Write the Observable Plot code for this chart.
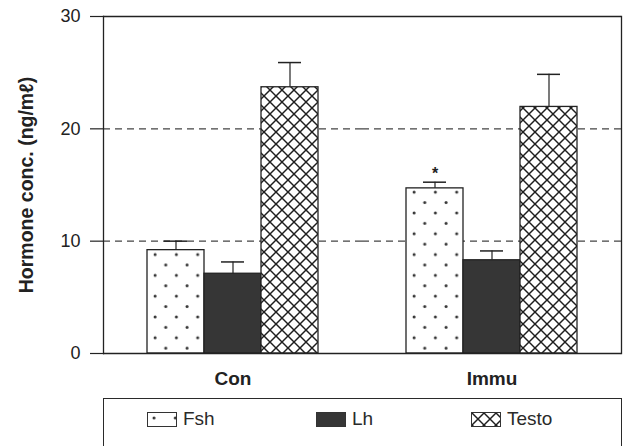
<!DOCTYPE html>
<html><head><meta charset="utf-8">
<script src="https://cdn.jsdelivr.net/npm/d3@7"></script>
<script src="https://cdn.jsdelivr.net/npm/@observablehq/plot@0.6"></script>
<style>
body{margin:0;background:#fff;font-family:"Liberation Sans",Arial,sans-serif;color:#222;}
#legend{position:relative;box-sizing:border-box;margin-left:103px;margin-top:3px;width:519px;height:60px;border:1.5px solid #2a2a2a;}
#legend .sw{position:absolute;top:13px;width:30px;height:15px;box-sizing:border-box;border:1.2px solid #333;}
#legend .lb{position:absolute;top:10px;font-size:19px;line-height:19px;color:#2a2a2a;}
</style></head><body>
<svg width="0" height="0" style="position:absolute">
<defs>
<pattern id="dots" patternUnits="userSpaceOnUse" width="21.3" height="20.8">
 <rect width="21.3" height="20.8" fill="#fff"/>
 <circle cx="6" cy="5" r="1.5" fill="#333"/>
 <circle cx="16.65" cy="15.4" r="1.5" fill="#333"/>
</pattern>
<pattern id="hatch" patternUnits="userSpaceOnUse" width="12" height="12">
 <rect width="12" height="12" fill="#fff"/>
 <path d="M-1,-1L13,13M13,-1L-1,13" stroke="#1e1e1e" stroke-width="1.45"/>
</pattern>
</defs></svg>
<div id="chart"></div>
<div id="legend"></div>
<script>
const groups = ["Con", "Immu"];
const hormones = ["Fsh", "Lh", "Testo"];
const conMeans = [9.2, 7.1, 23.7];
const conErrors = [0.8, 1.05, 2.2];
const immuMeans = [14.7, 8.3, 21.95];
const immuErrors = [0.55, 0.83, 2.9];
const significant = [["Immu", "Fsh"]];
const yTicks = [0, 10, 20, 30];
const yLabel = "Hormone conc. (ng/mℓ)";

const fills = {Fsh: "url(#dots)", Lh: "#363636", Testo: "url(#hatch)"};

const data = [];
hormones.forEach((h, i) => data.push({group: "Con", hormone: h, value: conMeans[i], err: conErrors[i]}));
hormones.forEach((h, i) => data.push({group: "Immu", hormone: h, value: immuMeans[i], err: immuErrors[i]}));
data.forEach(d => d.sig = significant.some(([g, h]) => g === d.group && h === d.hormone));

const plot = Plot.plot({
  width: 628,
  height: 395,
  marginLeft: 103,
  marginRight: 7,
  marginTop: 16,
  marginBottom: 42,
  style: {fontFamily: "'Liberation Sans', Arial, sans-serif", background: "#fff", color: "#222"},
  fx: {domain: groups, paddingInner: 0, paddingOuter: 0},
  x: {domain: hormones, paddingInner: 0, paddingOuter: 0.765, axis: null},
  y: {domain: [0, 30]},
  marks: [
    Plot.ruleY([10, 20], {stroke: "#444", strokeWidth: 1.2, strokeDasharray: "7,5"}),
    Plot.barY(data, {fx: "group", x: "hormone", y: "value", fill: d => fills[d.hormone], stroke: "#222", strokeWidth: 1.3}),
    Plot.ruleX(data, {fx: "group", x: "hormone", y1: "value", y2: d => d.value + d.err, stroke: "#222", strokeWidth: 1.2}),
    Plot.tickY(data, {fx: "group", x: "hormone", y: d => d.value + d.err, insetLeft: 17, insetRight: 17, stroke: "#222", strokeWidth: 1.5}),
    Plot.text(data.filter(d => d.sig), {fx: "group", x: "hormone", y: d => d.value + d.err, text: () => "*", dy: -8, fontSize: 16, fontWeight: "bold", fill: "#222"}),
    Plot.ruleY([0, 30], {stroke: "#222", strokeWidth: 1.3}),
    Plot.frame({anchor: "left", facetAnchor: "left", stroke: "#222", strokeWidth: 1.3}),
    Plot.frame({anchor: "right", facetAnchor: "right", stroke: "#222", strokeWidth: 1.3}),
    Plot.axisY({ticks: yTicks, tickSize: 13, tickPadding: 10, fontSize: 18, stroke: "#222", strokeWidth: 1.2,
      label: yLabel, labelAnchor: "center", labelOffset: 84}),
    Plot.axisFx({anchor: "bottom", tickSize: 0, tickPadding: 18, fontSize: 19, fontWeight: "bold", label: null})
  ]
});
document.getElementById("chart").appendChild(plot);
const lab = d3.select(plot).selectAll('[aria-label="y-axis label"]').attr("font-weight", "bold").attr("font-size", 19.5);
lab.selectAll("text").text(yLabel);

const legend = d3.select("#legend");
const swatchLeft = [42.5, 211.5, 366.5];
const labelLeft = [79, 248, 403];
hormones.forEach((h, i) => {
  const sw = legend.append("svg").attr("class", "sw").style("left", swatchLeft[i] + "px").attr("width", 30).attr("height", 15);
  sw.append("rect").attr("width", 30).attr("height", 15).attr("fill", fills[h]);
  legend.append("span").attr("class", "lb").style("left", labelLeft[i] + "px").text(h);
});
</script>
</body></html>
